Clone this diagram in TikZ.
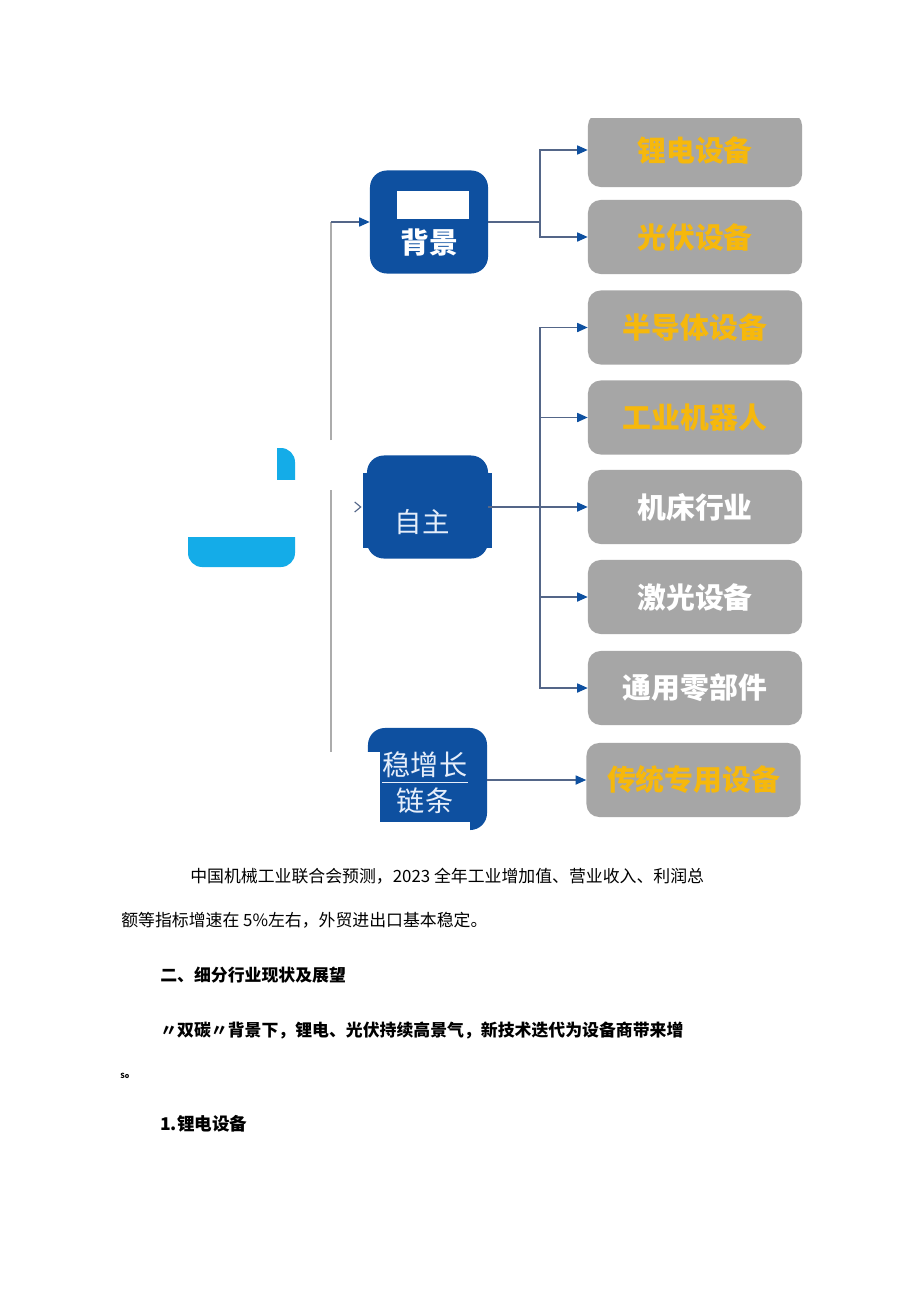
\documentclass[tikz,border=0pt]{standalone}
\usepackage{fontspec}
\setmainfont{Noto Sans CJK SC}
\usepackage{xcolor}
\usepackage{tikz}
\usetikzlibrary{arrows.meta,positioning}
\definecolor{navy}{RGB}{14,80,160}
\definecolor{sky}{RGB}{20,172,232}
\definecolor{slate}{RGB}{166,166,166}
\definecolor{gold}{RGB}{246,184,12}
\definecolor{wire}{RGB}{84,102,136}
\definecolor{trunk}{RGB}{172,172,172}
\definecolor{pale}{RGB}{230,238,250}

\tikzset{
  item/.style={fill=slate,rounded corners=9pt,inner sep=0pt,
    minimum width=5.35cm,minimum height=1.85cm,
    font=\bfseries\fontsize{20.5}{24}\selectfont},
  hub/.style={fill=navy,rounded corners=12pt,inner sep=0pt,
    minimum width=2.95cm,minimum height=2.575cm},
  link/.style={draw=wire,line width=0.9pt},
  tip/.style={-{Triangle[length=7.5pt,width=6.5pt,color=navy]}},
  body/.style={anchor=west,inner sep=0pt,font=\fontsize{12}{14}\selectfont},
  head/.style={body,font=\bfseries\fontsize{12}{14}\selectfont}
}

\begin{document}
\begin{tikzpicture}[x=0.025cm,y=-0.025cm]
      \useasboundingbox[fill=white](0,0) rectangle (920,1301);
      % left node, partly covered
      \draw[fill=sky,draw=none,rounded corners=10pt](188,448) rectangle (295,567);
      \fill[white](186,446) rectangle (277,537);
      \fill[white](277,480) rectangle (297,537);
      % trunk
      \coordinate (t1) at (331,222);
      \coordinate (t2) at (331,440);
      \coordinate (t3) at (331,490);
      \coordinate (t4) at (331,752);
      % hubs
      \node[hub] (bg) at (429,222){};
      \node[text=white,font=\bfseries\fontsize{20.5}{24}\selectfont] (bgtop) at (431,206){双碳};
      \fill[white](397,191) rectangle (469,219);
      \node[text=white,font=\bfseries\fontsize{20.5}{24}\selectfont] (bgbot) at (429,243){背景};
      \node[hub,minimum width=3.025cm] (zz) at (427.5,507){};
      \fill[navy](363,473) rectangle (492,548);
      \node[text=pale,font=\fontsize{19.5}{22}\selectfont] (zztxt) at (422,522){自主};
      \node[hub,minimum width=2.975cm,minimum height=2.55cm] (wz) at (427.5,779){};
      \fill[white](366,752) rectangle (380,833);
      \fill[white](366,822) rectangle (470,833);
      \fill[navy](380,752) rectangle (470,822);
      \draw[pale,line width=0.4pt](382,782) -- (468,782);
      \node[text=pale,font=\fontsize{20}{23}\selectfont] (wz1) at (425,765){稳增长};
      \node[text=pale,font=\fontsize{20}{23}\selectfont] (wz2) at (425,801){链条};
      % right items
      \node[item,text=gold] (li) at (695,150){锂电设备};
      \fill[white](580,100) rectangle (810,118);
      \node[item,text=gold] (pv) at (695,237){光伏设备};
      \node[item,text=gold] (sc) at (695,327.5){半导体设备};
      \node[item,text=gold] (rb) at (695,417.5){工业机器人};
      \node[item,text=white] (jc) at (695,507){机床行业};
      \node[item,text=white] (jg) at (695,597){激光设备};
      \node[item,text=white] (ty) at (695,688){通用零部件};
      \node[item,text=gold] (ct) at (693.5,780){传统专用设备};
      % connectors
      \draw[trunk,line width=1.4pt](t2) -- (t1);
      \draw[trunk,line width=1.4pt](t3) -- (t4);
      \draw[link,tip](t1) -- (bg.west);
      \draw[wire,line width=0.8pt](zz.west) ++(-12,-5) -- ++(6,5) -- ++(-6,5);
      \coordinate (j1) at (540,222);
      \draw[link](bg.east) -- (j1);
      \draw[link,tip](j1) |- (li.west);
      \draw[link,tip](j1) |- (pv.west);
      \coordinate (j2) at (540,507);
      \draw[link](zz.east) -- (j2);
      \foreach \k in {sc,rb,jc,jg,ty}
        \draw[link,tip](j2) |- (\k.west);
      \draw[link,tip](wz.east |- ct.west) -- (ct.west);
      % text below
      \node[body] (p1) at (190,876){中国机械工业联合会预测，2023 全年工业增加值、营业收入、利润总};
      \node[body] (p2) at (121,920){额等指标增速在 5\%左右，外贸进出口基本稳定。};
      \node[head] (h2) at (160,975){二、细分行业现状及展望};
      \node[head] (h3) at (160,1031){〃双碳〃背景下，锂电、光伏持续高景气，新技术迭代为设备商带来增};
      \node[anchor=west,inner sep=0pt,font=\bfseries\fontsize{5}{6}\selectfont] (so) at (120,1076){So};
      \node[head,font=\bfseries\fontsize{12.5}{15}\selectfont] (h4) at (160,1124){1.锂电设备};
\end{tikzpicture}
\end{document}
